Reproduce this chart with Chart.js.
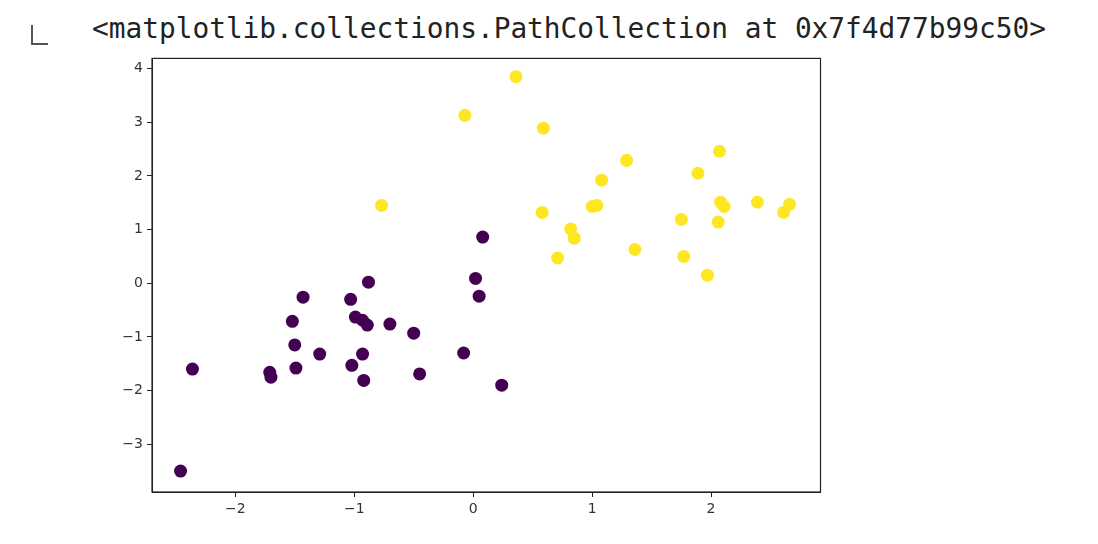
<!DOCTYPE html>
<html><head><script src="https://cdn.jsdelivr.net/npm/chart.js@4"></script>
<style>body{margin:0;background:#fff;width:1098px;height:544px;position:relative;overflow:hidden}
#hdr{position:absolute;left:92px;top:12px;font:27.8px "DejaVu Sans Mono",monospace;color:#222;letter-spacing:0}
#icon{position:absolute;left:31px;top:25px;width:15px;height:18px;border:2px solid #555;border-right:none;border-top:none}
#wrap{position:absolute;left:100px;top:46px;width:727px;height:498px}</style></head>
<body><div id="icon"></div><div id="hdr">&lt;matplotlib.collections.PathCollection at 0x7f4d77b99c50&gt;</div>
<div id="wrap"><canvas id="c"></canvas></div>
<script>
const yellowX=[0.36,-0.07,0.59,1.29,2.07,1.08,1.89,-0.77,0.58,1.00,1.04,1.75,2.08,2.11,2.39,2.66,2.61,2.06,0.82,0.85,1.36,0.71,1.77,1.97];
const yellowY=[3.85,3.13,2.89,2.29,2.46,1.92,2.05,1.45,1.32,1.43,1.45,1.19,1.51,1.43,1.51,1.47,1.32,1.14,1.01,0.84,0.63,0.47,0.50,0.15];
const purpleX=[0.08,0.02,0.05,-0.88,-1.43,-1.03,-1.52,-0.99,-0.93,-0.89,-0.70,-0.50,-1.50,-1.29,-0.93,-0.08,-1.02,-1.49,-2.36,-1.71,-1.70,-0.92,-0.45,0.24,-2.46];
const purpleY=[0.86,0.09,-0.24,0.02,-0.26,-0.30,-0.71,-0.63,-0.69,-0.78,-0.76,-0.93,-1.15,-1.32,-1.32,-1.30,-1.53,-1.58,-1.60,-1.66,-1.75,-1.81,-1.69,-1.90,-3.50];
const xTicks=[-2,-1,0,1,2], yTicks=[-3,-2,-1,0,1,2,3,4];
const pts=(xs,ys)=>xs.map((x,i)=>({x,y:ys[i]}));
const fmt=v=>v<0?'\u2212'+(-v):String(v);
const frame={id:'frame',afterDraw(c){const a=c.chartArea,x=c.ctx;x.save();x.strokeStyle='#222';x.lineWidth=1.2;x.strokeRect(a.left,a.top,a.right-a.left,a.bottom-a.top);x.restore();}};
const axis=(min,max,ticks,fit)=>({type:'linear',min,max,afterBuildTicks:s=>{s.ticks=ticks.map(v=>({value:v}))},
 afterFit:fit,grid:{drawOnChartArea:false,tickLength:5,color:'#222'},border:{color:'#222'},
 ticks:{color:'#333',font:{family:'DejaVu Sans',size:14},callback:fmt,padding:4}});
new Chart(document.getElementById('c'),{type:'scatter',
 data:{datasets:[
  {data:pts(purpleX,purpleY),backgroundColor:'#440154',borderWidth:0,pointRadius:6.5,clip:false},
  {data:pts(yellowX,yellowY),backgroundColor:'#fde725',borderWidth:0,pointRadius:6.5,clip:false}]},
 options:{responsive:true,maintainAspectRatio:false,animation:false,layout:{padding:0},
  plugins:{legend:{display:false},tooltip:{enabled:false}},
  scales:{x:axis(-2.70,2.92,xTicks,s=>{s.height=52}),y:axis(-3.89,4.19,yTicks,s=>{s.width=52})}},
 plugins:[frame]});
</script></body></html>
